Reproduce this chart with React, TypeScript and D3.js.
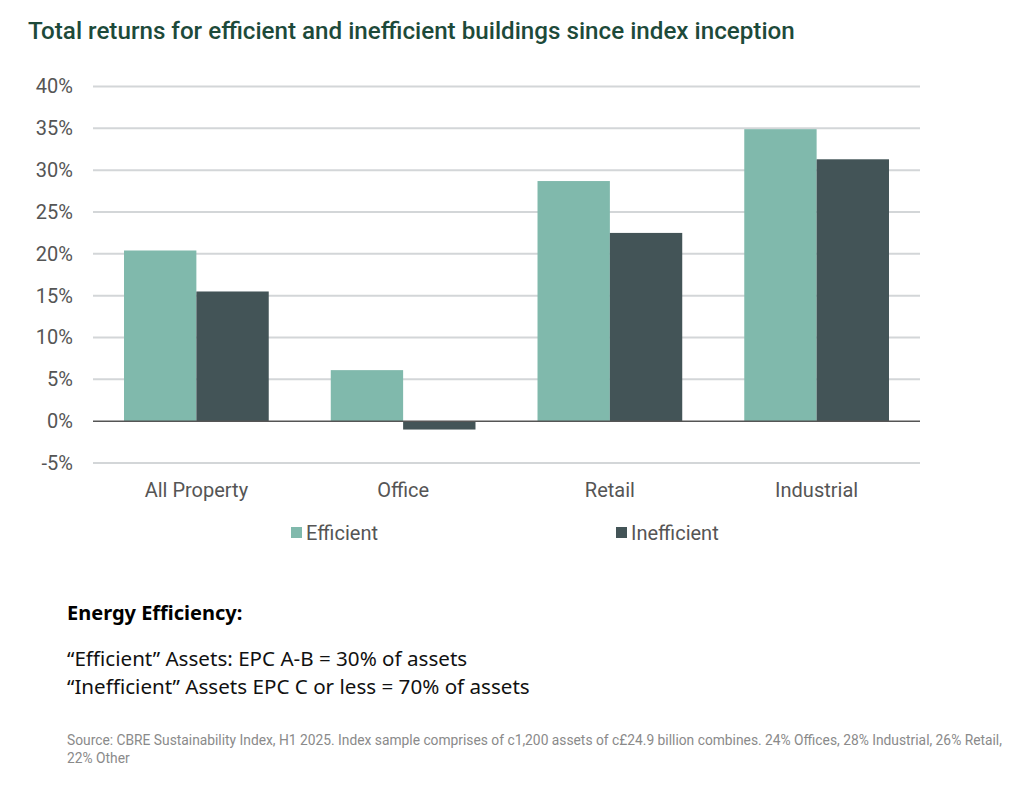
import React, { useEffect, useRef } from 'react';
import * as d3 from 'd3';

const categories = ['All Property', 'Office', 'Retail', 'Industrial'];
const seriesNames = ['Efficient', 'Inefficient'];
const efficient = [20.4, 6.1, 28.7, 34.9];
const inefficient = [15.5, -1.0, 22.5, 31.3];
const yTicks = [-5, 0, 5, 10, 15, 20, 25, 30, 35, 40];

const colors = ['#80b9ac', '#435457'];

const App: React.FC = () => {
  const width = 1015;
  const height = 787;
  const svgRef = useRef<SVGSVGElement>(null);

  useEffect(() => {
    if (!svgRef.current) return;
    const svg = d3.select(svgRef.current);
    svg.selectAll('*').remove();

    const left = 93;
    const right = 920;
    const y = d3.scaleLinear().domain([-5, 40]).range([463, 86.5]);

    const x = d3.scaleBand()
      .domain(categories)
      .range([left, right])
      .paddingInner(0.3)
      .paddingOuter(0.15);

    const xs = d3.scaleBand()
      .domain(seriesNames)
      .range([0, x.bandwidth()]);

    // title
    svg.append('text')
      .attr('x', 28)
      .attr('y', 39)
      .attr('fill', '#1d4a3a')
      .style('font-family', 'Roboto, sans-serif')
      .style('font-size', '24.2px')
      .style('font-weight', 500)
      .text('Total returns for efficient and inefficient buildings since index inception');

    // gridlines
    svg.append('g')
      .selectAll('line')
      .data(yTicks.filter(t => t !== 0))
      .enter()
      .append('line')
      .attr('x1', left)
      .attr('x2', right)
      .attr('y1', d => y(d))
      .attr('y2', d => y(d))
      .attr('stroke', '#d3d6d8')
      .attr('stroke-width', 2);

    // y axis labels
    const yAxis = svg.append('g')
      .attr('transform', `translate(${left}, 0)`)
      .call(d3.axisLeft(y).tickValues(yTicks).tickSize(0).tickPadding(20).tickFormat(d => `${d}%`));
    yAxis.select('.domain').remove();
    yAxis.selectAll('text')
      .attr('fill', '#555')
      .style('font-family', 'Roboto, sans-serif')
      .style('font-size', '20px');

    const rows = categories.map((c, i) => ({ c, vals: [efficient[i], inefficient[i]] }));

    const groups = svg.append('g')
      .selectAll('g')
      .data(rows)
      .enter()
      .append('g')
      .attr('transform', d => `translate(${x(d.c)}, 0)`);

    groups.selectAll('rect')
      .data(d => d.vals.map((v, k) => ({ v, k })))
      .enter()
      .append('rect')
      .attr('x', d => xs(seriesNames[d.k]) || 0)
      .attr('width', xs.bandwidth())
      .attr('y', d => y(Math.max(0, d.v)))
      .attr('height', d => Math.abs(y(d.v) - y(0)))
      .attr('fill', d => colors[d.k]);

    // zero line
    svg.append('line')
      .attr('x1', left)
      .attr('x2', right)
      .attr('y1', y(0))
      .attr('y2', y(0))
      .attr('stroke', '#555')
      .attr('stroke-width', 1.5);

    // category labels
    const xAxis = svg.append('g')
      .attr('transform', `translate(0, ${y(-5)})`)
      .call(d3.axisBottom(x).tickSize(0).tickPadding(20));
    xAxis.select('.domain').remove();
    xAxis.selectAll('text')
      .attr('fill', '#555')
      .style('font-family', 'Roboto, sans-serif')
      .style('font-size', '20px');

    // legend
    const legendX = [291, 616];
    const legend = svg.append('g')
      .selectAll('g')
      .data(seriesNames)
      .enter()
      .append('g')
      .attr('transform', (d, i) => `translate(${legendX[i]}, 527)`);
    legend.append('rect')
      .attr('width', 11)
      .attr('height', 11)
      .attr('fill', (d, i) => colors[i]);
    legend.append('text')
      .attr('x', 15)
      .attr('y', 13)
      .attr('fill', '#555')
      .style('font-family', 'Roboto, sans-serif')
      .style('font-size', '20px')
      .text(d => d);

    // notes below the chart
    svg.append('text')
      .attr('x', 67)
      .attr('y', 620)
      .attr('fill', '#000')
      .style('font-family', '"Noto Sans", sans-serif')
      .style('font-size', '20px')
      .style('font-weight', 700)
      .text('Energy Efficiency:');

    const notes = [
      '\u201cEfficient\u201d Assets: EPC A-B = 30% of assets',
      '\u201cInefficient\u201d Assets EPC C or less = 70% of assets',
    ];
    svg.append('g')
      .selectAll('text')
      .data(notes)
      .enter()
      .append('text')
      .attr('x', 67)
      .attr('y', (d, i) => 666 + i * 28)
      .attr('fill', '#111')
      .style('font-family', '"Noto Sans", sans-serif')
      .style('font-size', '20.6px')
      .text(d => d);

    const source = [
      'Source: CBRE Sustainability Index, H1 2025. Index sample comprises of c1,200 assets of c\u00a324.9 billion combines. 24% Offices, 28% Industrial, 26% Retail,',
      '22% Other',
    ];
    svg.append('g')
      .selectAll('text')
      .data(source)
      .enter()
      .append('text')
      .attr('x', 67)
      .attr('y', (d, i) => 745 + i * 18)
      .attr('fill', '#8a8a8a')
      .style('font-family', 'Roboto, sans-serif')
      .style('font-size', '13.8px')
      .text(d => d);
  }, []);

  return (
    <svg ref={svgRef} width={width} height={height} style={{ position: 'absolute', left: 0, top: 0, background: '#fff' }}></svg>
  );
};

export default App;
